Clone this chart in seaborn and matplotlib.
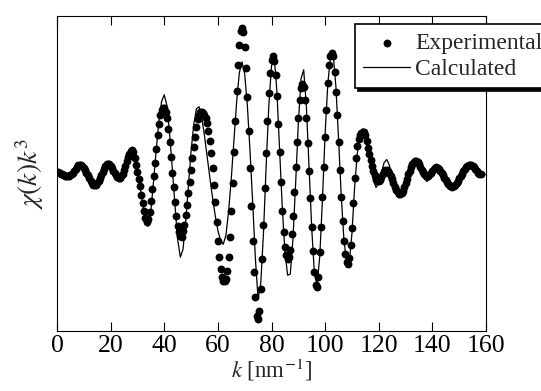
import numpy as np
import pandas as pd
import matplotlib
matplotlib.use("Agg")
import matplotlib.pyplot as plt
import seaborn as sns

# chi(k)k^3 in arbitrary units (zero in the middle of the frame)
# experimental points, sampled every 0.5 nm^-1 starting at k = 0
y_exp_low = [2, 1.5, 1, 0, -1, -2, -2.5, -3, -3, -3,           # k 0 .. 4.5
             -2, -0.5, 1, 3, 5, 7, 8.5, 9, 8.5, 7.5,
             6, 4, 1, -2, -5, -8, -10, -11.5, -12, -11.5,
             -10, -8, -5, -1.5, 2, 5, 8, 9.5, 10, 9.5,
             8, 6, 3, 0.5, -2, -4, -5, -4.5, -3]                # .. k 24
y_exp_mid = [0, 4, 8, 13, 17, 20, 23, 24,                       # k 24.5 .. 28
             22, 16, 9, 2, -6, -13, -22, -30, -38, -45,
             -49, -46, -39, -28, -16, -3, 11, 25, 39, 50,
             59, 64, 66, 66, 62, 56, 45, 32, 17, 1,
             -14, -29, -43, -53, -59, -63, -64, -58, -52, -42,
             -32, -20, -9, 4, 16, 27, 37, 47, 55, 59,
             62, 62, 61, 59, 56, 51, 43, 33, 21, 6,
             -12, -29, -49, -68, -84, -96, -104, -108, -108, -106,
             -98, -84, -64, -38, -10, 22, 53, 83, 109, 129,
             143, 146, 142, 127, 106, 77, 43, 6, -33, -68,
             -99, -124, -143, -146, -138, -116, -86, -52, -15, 21,
             53, 81, 101, 114, 118, 113, 99, 78, 50, 22,
             -9, -38, -59, -74, -82, -86, -84, -77, -61, -43,
             -19, 7, 32, 56, 74, 86, 90, 87, 74, 56,
             31, 3, -25, -54, -78, -99, -112, -114, -104, -79,
             -54, -24, 7, 37, 64, 91, 109, 118, 121, 118,
             102, 82, 59, 32, 4, -24, -48, -68, -81, -89,
             -91, -85, -72, -55, -30, -5, 16, 28, 35, 39,
             41, 42, 42, 39, 33,
             26, 20, 14, 8, 3, -2, -6, -8, -8]                  # .. k 120
y_exp_high = [-6.5, -4, -1, 2, 3.5, 4, 3, 1, -2.5, -6, -10,     # k 120.5 .. 125.5
              -14, -17, -19, -20.5, -21, -20, -18, -14, -10, -5.5,
              -1, 3, 7, 10, 12, 13, 13, 12, 10, 7,
              4, 1.5, -1, -2.5, -3, -2.5, -1, 1, 3, 5,
              6, 6.5, 6, 4.5, 3, 0.5, -2, -4.5, -7, -9,
              -11, -12.5, -13, -13.5, -13, -12, -10, -7.5, -5, -2.5,
              0, 2.5, 5, 6.5, 8, 8.5, 9, 9, 8, 6.5,
              5, 3, 1, 0, -1]                                   # .. k 158

# calculated curve, sampled every 1 nm^-1 starting at k = 0
y_calc = [2, 1, -1, -2.5, -3, -2, 1, 5, 8.5, 8.5, 6, 1, -5, -10, -12, -10, -5, 2, 8, 10,
          8, 3, -2, -5, -3,
          4, 13, 20, 24, 17, 3, -14, -32, -48, -53,
          -38, -8, 24, 52, 72, 79, 68, 40, 5, -32,
          -66, -84, -76, -48, -13, 22, 49, 65, 67, 56,
          38, 17, -4, -24, -42, -57, -67, -71, -62, -38,
          -5, 33, 72, 101, 112, 100, 68, 22, -30, -86,
          -126, -110, -60, 7, 68, 108, 117, 83, 26, -33,
          -78, -102, -101, -66, -10, 50, 95, 104, 68, 6,
          -55, -100, -112, -83, -26, 40, 90, 117, 120, 88,
          35, -22, -66, -89, -90, -60, -14, 20, 38, 45,
          42, 26, 8, -7, -14, -10, 1, 11, 14, 8,
          -4, -14, -20, -21, -16, -8, 1, 9, 13, 14,
          10, 2, -5, -8, -5, 1, 5, 6, 3, -2,
          -7, -11, -13, -13, -10, -5, 0, 5, 8, 9,
          8, 5, 2, 0]

x_ticks = [0, 20, 40, 60, 80, 100, 120, 140, 160]

y_exp = y_exp_low + y_exp_mid + y_exp_high
exp = pd.DataFrame({"k": 0.5 * np.arange(len(y_exp)), "chi": y_exp})
calc = pd.DataFrame({"k": np.arange(len(y_calc), dtype=float), "chi": y_calc})

sns.set_style("white")
plt.rcParams["font.family"] = ["Liberation Serif", "DejaVu Serif"]
plt.rcParams["mathtext.fontset"] = "stix"

fig = plt.figure(figsize=(5.41, 3.91), dpi=100)
ax = fig.add_axes([57 / 541, 1 - 331 / 391, (486 - 57) / 541, (331 - 16) / 391])

sns.lineplot(data=calc, x="k", y="chi", color="black", linewidth=0.9,
             estimator=None, sort=False, label="Calculated", ax=ax, zorder=2)
sns.scatterplot(data=exp, x="k", y="chi", color="black", s=32, edgecolor="black",
                linewidth=0, label="Experimental", ax=ax, zorder=3)

ax.set_xlim(0, 160)
ax.set_ylim(-158, 158)
ax.set_xticks(x_ticks)
ax.set_xticklabels([str(t) for t in x_ticks])
ax.tick_params(axis="x", direction="in", length=6.5, width=0.8, top=True, bottom=True,
               labelsize=18.5, pad=3, colors="black")
ax.set_yticks([0])
ax.tick_params(axis="y", direction="in", left=False, right=True, labelleft=False,
               labelright=False, length=4, width=0.8)
for sp in ax.spines.values():
    sp.set_visible(True)
    sp.set_color("black")
    sp.set_linewidth(0.8)

ax.set_xlabel(r"$k$ [nm$^{-1}$]", fontsize=16.5, labelpad=0)
ax.set_ylabel(r"$\chi(k)k^3$", fontsize=20, labelpad=8)

handles, labels = ax.get_legend_handles_labels()
order = [labels.index("Experimental"), labels.index("Calculated")]
leg = ax.legend([handles[i] for i in order], [labels[i] for i in order],
                loc="upper left", bbox_to_anchor=(355 / 541, 1 - 24 / 391),
                bbox_transform=fig.transFigure, frameon=True, fancybox=False,
                shadow={"color": "black", "alpha": 1}, edgecolor="black", framealpha=1,
                fontsize=17, handlelength=2.0, handletextpad=0.2, borderpad=0.35,
                labelspacing=0.2, borderaxespad=0)
leg.get_frame().set_linewidth(1.2)

fig.savefig("out.png", dpi=100)
